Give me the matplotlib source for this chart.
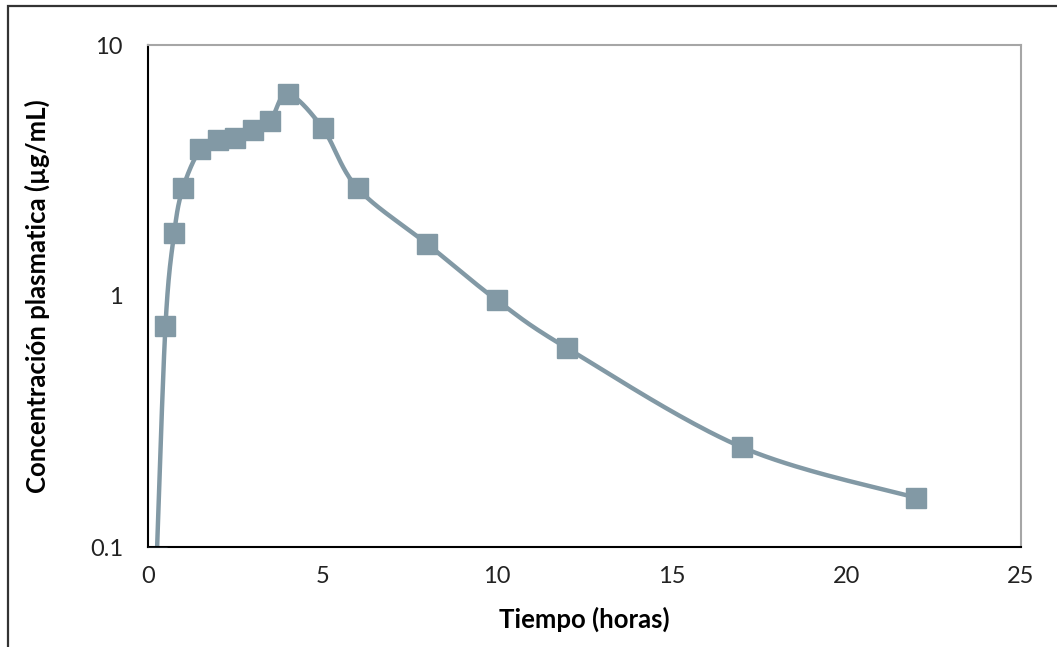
import numpy as np
import matplotlib
matplotlib.use("Agg")
import matplotlib.pyplot as plt
from matplotlib.ticker import FixedLocator, FixedFormatter, NullLocator
from matplotlib.patches import Rectangle

# Data
tiempo = [0.25, 0.5, 0.75, 1, 1.5, 2, 2.5, 3, 3.5, 4, 5, 6, 8, 10, 12, 17, 22]
concentracion = [0.09, 0.76, 1.78, 2.69, 3.85, 4.17, 4.26, 4.58, 4.98, 6.38, 4.67, 2.69, 1.61, 0.96, 0.62, 0.25, 0.157]
xticks = [0, 5, 10, 15, 20, 25]
yticks = [0.1, 1, 10]
ytick_labels = ["0.1", "1", "10"]

plt.rcParams['font.family'] = ['Lato', 'DejaVu Sans']
color = '#8299a5'

fig = plt.figure(figsize=(10.57, 6.47), dpi=100)
ax = fig.add_axes([148/1057, 1-547/647, (1021-148)/1057, (547-45)/647])

ax.set_yscale('log')
ax.set_xlim(0, 25)
ax.set_ylim(0.1, 10)

# smoothed line (Catmull-Rom in display space)
fig.canvas.draw()
pts = ax.transData.transform(np.column_stack([tiempo, concentracion]))
P = np.vstack([pts[0], pts, pts[-1]])
curve = []
for i in range(1, len(P) - 2):
    p0, p1, p2, p3 = P[i-1], P[i], P[i+1], P[i+2]
    c1 = p1 + (p2 - p0) / 6
    c2 = p2 - (p3 - p1) / 6
    s = np.linspace(0, 1, 40)[:, None]
    seg = (1-s)**3*p1 + 3*(1-s)**2*s*c1 + 3*(1-s)*s**2*c2 + s**3*p2
    curve.append(seg)
curve = np.vstack(curve)
dcurve = ax.transData.inverted().transform(curve)
ax.plot(dcurve[:, 0], dcurve[:, 1], color=color, lw=3.2, solid_capstyle='butt', zorder=2)
ax.plot(tiempo, concentracion, linestyle='none', marker='s', markersize=15,
        markerfacecolor=color, markeredgecolor=color, zorder=3)

ax.xaxis.set_major_locator(FixedLocator(xticks))
ax.yaxis.set_major_locator(FixedLocator(yticks))
ax.yaxis.set_major_formatter(FixedFormatter(ytick_labels))
ax.yaxis.set_minor_locator(NullLocator())
ax.tick_params(axis='both', length=0, labelsize=17, colors='#222222')
ax.tick_params(axis='x', pad=14)
ax.tick_params(axis='y', pad=18)

for s in ['left', 'bottom']:
    ax.spines[s].set_color('black')
    ax.spines[s].set_linewidth(1.5)
for s in ['top', 'right']:
    ax.spines[s].set_color('#a6a6a6')
    ax.spines[s].set_linewidth(1.5)

ax.set_xlabel('Tiempo (horas)', fontsize=18.5, fontweight='bold')
ax.set_ylabel('Concentración plasmatica (µg/mL)', fontsize=18.5, fontweight='bold')
ax.xaxis.set_label_coords(0.5, -0.118)
ax.yaxis.set_label_coords(-0.112, 0.5)

# outer frame
fig.patches.append(Rectangle((8/1057, -0.05), 1.2, 1 - 6/647 + 0.05, transform=fig.transFigure,
                             fill=False, edgecolor='#333333', linewidth=1.6))

fig.savefig('out.png', dpi=100)
